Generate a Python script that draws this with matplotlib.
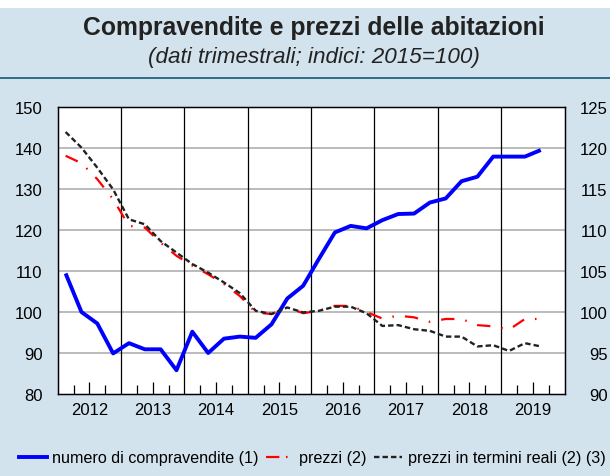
import matplotlib.pyplot as plt
import numpy as np
from matplotlib.lines import Line2D

plt.rcParams['font.family'] = ['Liberation Sans', 'DejaVu Sans']

# quarterly data, 2012 Q1 - 2019 Q3
periods = [f"{y}Q{q}" for y in range(2012, 2020) for q in range(1, 5)][:31]

compravendite = [109.4, 100.0, 97.2, 89.9, 92.4, 90.9, 90.9, 85.8,
                 95.2, 90.0, 93.5, 94.0, 93.7, 97.0, 103.3, 106.4,
                 113.0, 119.4, 121.0, 120.4, 122.4, 123.9, 124.0, 126.7,
                 127.7, 131.9, 133.0, 137.9, 137.9, 137.9, 139.5]

prezzi = [119.05, 118.15, 116.2, 113.75, 110.5, 110.3, 108.45, 106.85,
          105.65, 104.6, 103.4, 101.95, 99.95, 99.75, 100.55, 99.85,
          100.15, 100.75, 100.75, 100.0, 99.2, 99.55, 99.35, 98.8,
          99.15, 99.15, 98.4, 98.25, 97.85, 99.15, 99.15]

prezzi_reali = [121.95, 120.05, 117.6, 114.95, 111.3, 110.7, 108.65, 107.25,
                105.85, 104.8, 103.6, 102.3, 100.15, 99.75, 100.55, 99.95,
                100.15, 100.65, 100.65, 99.85, 98.3, 98.4, 97.9, 97.7,
                97.0, 97.0, 95.8, 95.95, 95.25, 96.2, 95.8]

years = list(range(2012, 2020))
left_ticks = [80, 90, 100, 110, 120, 130, 140, 150]
right_ticks = [90, 95, 100, 105, 110, 115, 120, 125]

bg = '#d3e3ee'
x = np.array([int(p[:4]) + (int(p[-1]) - 0.5) / 4 for p in periods])

fig = plt.figure(figsize=(6.1, 4.77), dpi=100, facecolor=bg)
# white strip on top and separator line under the title
fig.patches.append(plt.Rectangle((0, 1 - 9 / 477), 1, 9 / 477, transform=fig.transFigure,
                                 facecolor='white', edgecolor='none'))
fig.add_artist(Line2D([0, 1], [1 - 79 / 477] * 2, transform=fig.transFigure,
                      color='#2d6b8a', lw=1.4))

fig.text(0.514, 1 - 28 / 477, 'Compravendite e prezzi delle abitazioni',
         ha='center', va='center', fontsize=17.8, fontweight='bold', color='#222222')
fig.text(0.514, 1 - 57 / 477, '(dati trimestrali; indici: 2015=100)',
         ha='center', va='center', fontsize=16.2, style='italic', color='#222222')

ax = fig.add_axes([57.7 / 610, 82 / 477, (564.5 - 57.7) / 610, (395 - 108) / 477])
ax.set_facecolor('white')
ax.set_xlim(2012, 2020)
ax.set_ylim(80, 150)
ax.set_yticks(left_ticks)
for t in left_ticks[1:-1]:
    ax.axhline(t, color='#b5b5b5', lw=1.3, zorder=1)
for y in years[1:]:
    ax.axvline(y, color='black', lw=0.9, zorder=1)

# quarter ticks (inside), taller one at mid-year with the year label
ax.set_xticks([y + q for y in years for q in (0.25, 0.75)])
ax.set_xticklabels([])
ax.set_xticks([y + 0.5 for y in years], minor=True)
ax.set_xticklabels([str(y) for y in years], minor=True)
ax.tick_params(axis='x', which='major', direction='in', length=6.7, width=0.9)
ax.tick_params(axis='x', which='minor', direction='in', length=9, width=0.9,
               labelsize=12, pad=6)
ax.tick_params(axis='y', length=0, labelsize=12, pad=11)
for s in ax.spines.values():
    s.set_linewidth(1.0)

ax.plot(x, compravendite, color='#0000ff', lw=2.8, zorder=4, solid_capstyle='butt')

ax2 = ax.twinx()
ax2.set_ylim(90, 125)
ax2.set_yticks(right_ticks)
ax2.tick_params(axis='y', length=0, labelsize=12, pad=31)
for lab in ax2.get_yticklabels():
    lab.set_horizontalalignment('right')
ax2.plot(x, prezzi, color='#ff0000', lw=1.6, linestyle=(0, (6, 5, 0.7, 5)), zorder=3)
ax2.plot(x, prezzi_reali, color='#222222', lw=1.7, linestyle=(0, (2.3, 1.3)), zorder=5)

handles = [Line2D([], [], color='#0000ff', lw=2.8),
           Line2D([], [], color='#ff0000', lw=1.6, linestyle=(0, (6, 3, 0.7, 3))),
           Line2D([], [], color='#222222', lw=1.7, linestyle=(0, (2.3, 1.3)))]
labels = ['numero di compravendite (1)', 'prezzi (2)', 'prezzi in termini reali (2) (3)']
fig.legend(handles, labels, loc='center left', bbox_to_anchor=(19 / 610, 1 - 459 / 477),
           ncol=3, frameon=False, borderpad=0, borderaxespad=0, handlelength=1.75,
           handletextpad=0.32, columnspacing=0.45,
           prop={'family': 'Liberation Sans', 'size': 11.6})

fig.savefig('out.png', dpi=100, facecolor=bg)
